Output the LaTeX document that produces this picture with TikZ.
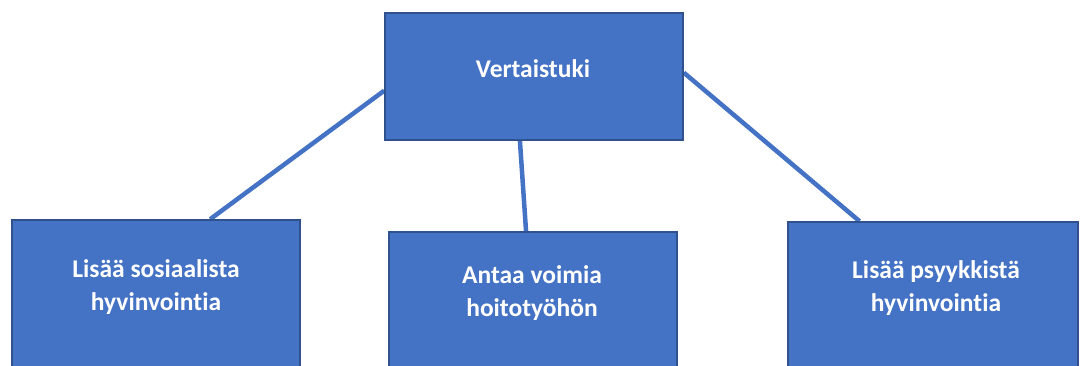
\documentclass[tikz,border=0pt]{standalone}
\usepackage{fontspec}
\setmainfont{Carlito}[Ligatures=NoCommon]
\usetikzlibrary{calc,backgrounds}
\definecolor{boxfill}{HTML}{4472C4}
\definecolor{boxedge}{HTML}{2F528F}
\begin{document}
\begin{tikzpicture}[x=1pt,y=-1pt,
  box/.style={draw=boxedge,line width=1.6pt,fill=boxfill,rectangle,inner sep=0pt},
  lbl/.style={text=white,font=\bfseries\fontsize{25.5}{33}\selectfont,align=center,inner sep=0pt},
  conn/.style={draw=boxfill,line width=4.5pt}]
\useasboundingbox (0,0) rectangle (1080,365);
\node[box,minimum width=298pt,minimum height=127pt] (top) at (534,76.5) {};
\node[box,minimum width=288pt,minimum height=170pt] (left) at (156,305) {};
\node[box,minimum width=288pt,minimum height=150pt] (mid) at (533,307) {};
\node[box,minimum width=290pt,minimum height=160pt] (right) at (933,302) {};
\coordinate (a1) at ($(top.north west)!0.61!(top.south west)$);
\coordinate (a2) at ($(left.north west)!0.687!(left.north east)$);
\coordinate (b1) at ($(top.south west)!0.453!(top.south east)$);
\coordinate (b2) at ($(mid.north west)!0.476!(mid.north east)$);
\coordinate (c1) at ($(top.north east)!0.47!(top.south east)$);
\coordinate (c2) at ($(right.north west)!0.248!(right.north east)$);
\begin{scope}[on background layer]
\draw[conn] (a1) -- (a2);
\draw[conn] (b1) -- (b2);
\draw[conn] (c1) -- (c2);
\end{scope}
\node[lbl] (ttop) at (533,69) {Vertaistuki};
\node[lbl] (tleft) at (156,287) {Lisää sosiaalista\\hyvinvointia};
\node[lbl] (tmid) at (532,293) {Antaa voimia\\hoitotyöhön};
\node[lbl] (tright) at (936,288) {Lisää psyykkistä\\hyvinvointia};
\end{tikzpicture}
\end{document}
